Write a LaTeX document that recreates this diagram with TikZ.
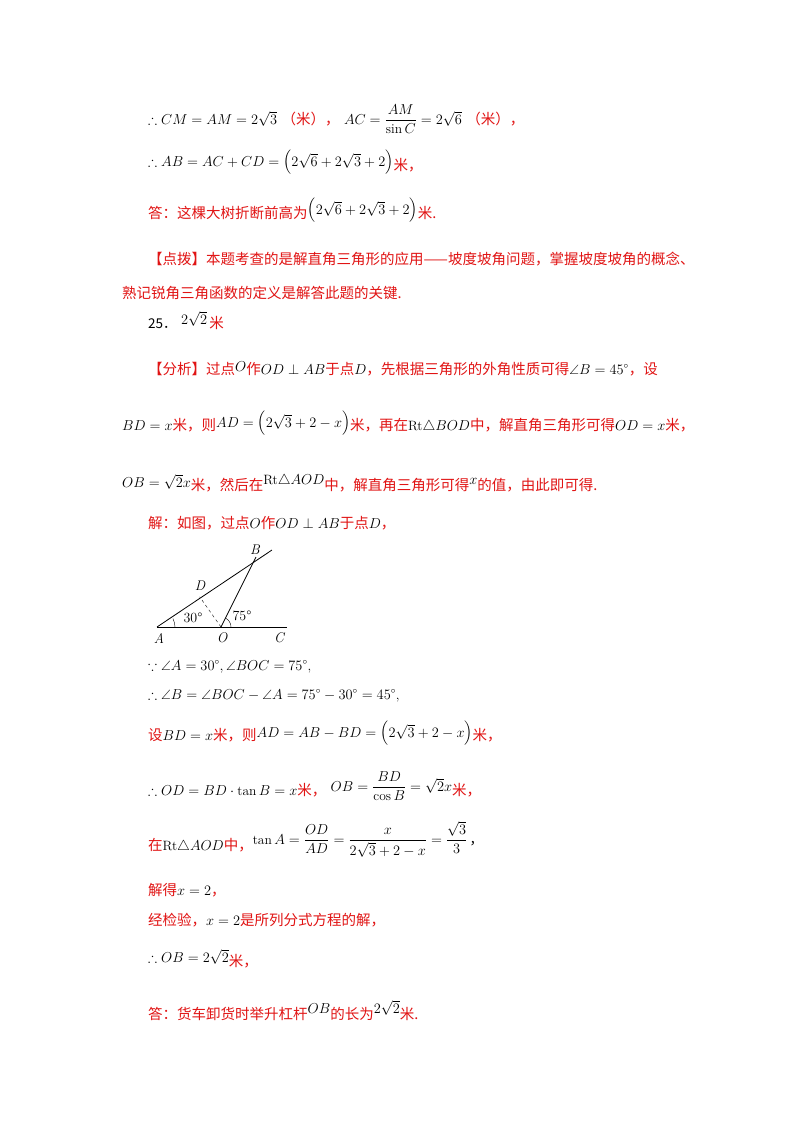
\documentclass[tikz,border=0pt]{standalone}
\usepackage{amsmath,amssymb}
\usepackage{fontspec}
\usetikzlibrary{calc}
\newfontfamily\cjk{Noto Sans CJK SC}
\definecolor{zred}{RGB}{225,20,20}
\newcommand{\zh}[1]{{\cjk\fontsize{14.5}{16}\selectfont\color{zred}#1}}
\begin{document}
\begin{tikzpicture}[x=1pt,y=-1pt,
  ln/.style={anchor=base west,inner sep=0pt,font=\fontsize{13.5}{15}\selectfont},
  pt/.style={font=\fontsize{14}{16}\selectfont\itshape,inner sep=1pt}]
\useasboundingbox (0,0) rectangle (800,1132);
\fill[white] (0,0) rectangle (800,1132);
\node[ln] (l1) at (148,124) {$\therefore CM=AM=2\sqrt{3}$\ \zh{（米），}\ $AC=\dfrac{AM}{\sin C}=2\sqrt{6}$\ \zh{（米），}};
\node[ln] (l2) at (148,166) {$\therefore AB=AC+CD=\Bigl(2\sqrt{6}+2\sqrt{3}+2\Bigr)$\raisebox{-4pt}{\zh{米，}}};
\node[ln] (l3) at (148,218) {\zh{答：这棵大树折断前高为}\raisebox{4pt}{$\Bigl(2\sqrt{6}+2\sqrt{3}+2\Bigr)$}\zh{米.}};
\node[ln] (l4) at (148,264) {\zh{【点拨】本题考查的是解直角三角形的应用——坡度坡角问题，掌握坡度坡角的概念、}};
\node[ln] (l5) at (122,298) {\zh{熟记锐角三角函数的定义是解答此题的关键.}};
\node[ln] (l6) at (148,328) {{\cjk 25．}\ \raisebox{4pt}{$2\sqrt{2}$}\,\zh{米}};
\node[ln] (l7) at (148,374) {\zh{【分析】过点}\raisebox{3pt}{$O$}\zh{作}$OD\perp AB$\zh{于点}$D$\zh{，先根据三角形的外角性质可得}$\angle B=45^\circ$\zh{，设}};
\node[ln] (l8) at (122,430) {$BD=x$\zh{米，则}\raisebox{3pt}{$AD=\Bigl(2\sqrt{3}+2-x\Bigr)$}\zh{米，再在}Rt$\triangle BOD$\zh{中，解直角三角形可得}$OD=x$\zh{米，}};
\node[ln] (l9) at (122,490) {\raisebox{3pt}{$OB=\sqrt{2}x$}\zh{米，然后在}\raisebox{6pt}{Rt$\triangle AOD$}\zh{中，解直角三角形可得}\raisebox{6pt}{$x$}\zh{的值，由此即可得.}};
\node[ln] (l10) at (148,528) {\zh{解：如图，过点}$O$\zh{作}$OD\perp AB$\zh{于点}$D$\zh{，}};
% figure
\coordinate (A) at (157,627);
\coordinate (O) at (221,627);
\coordinate (C) at (287,627);
\coordinate (B) at (256,557);
\coordinate (E) at (272,550);
\coordinate (D) at ($(A)!(O)!(B)$);
\draw[thick] (A) -- (C);
\draw[thick] (A) -- (E);
\draw[thick] (O) -- (B);
\draw[dashed] (O) -- (D);
\draw (A) ++(0:18) arc (0:-28:18);
\draw (O) ++(0:10) arc (0:-65:10);
\node[pt] (nA) at (159,638) {A};
\node[pt] (nO) at (222,638) {O};
\node[pt] (nC) at (279,638) {C};
\node[pt] (nB) at (255,550) {B};
\node[pt] (nD) at (200,586) {D};
\node[font=\fontsize{14}{16}\selectfont,inner sep=0pt] (a30) at (193,618) {30°};
\node[font=\fontsize{14}{16}\selectfont,inner sep=0pt] (a75) at (242,616) {75°};
\node[ln] (l11) at (148,670) {$\because\angle A=30^\circ,\angle BOC=75^\circ$,};
\node[ln] (l12) at (148,699) {$\therefore\angle B=\angle BOC-\angle A=75^\circ-30^\circ=45^\circ$,};
\node[ln] (l13) at (148,740) {\zh{设}$BD=x$\zh{米，则}\raisebox{3pt}{$AD=AB-BD=\Bigl(2\sqrt{3}+2-x\Bigr)$}\zh{米，}};
\node[ln] (l14) at (148,795) {$\therefore OD=BD\cdot\tan B=x$\zh{米，}\ \raisebox{4pt}{$OB=\dfrac{BD}{\cos B}=\sqrt{2}x$}\zh{米，}};
\node[ln] (l15) at (148,850) {\zh{在}Rt$\triangle AOD$\zh{中，}\raisebox{6pt}{$\tan A=\dfrac{OD}{AD}=\dfrac{x}{2\sqrt{3}+2-x}=\dfrac{\sqrt{3}}{3}$\,{\cjk ，}}};
\node[ln] (l16) at (148,895) {\zh{解得}$x=2$\zh{，}};
\node[ln] (l17) at (148,925) {\zh{经检验，}$x=2$\zh{是所列分式方程的解，}};
\node[ln] (l18) at (148,962) {$\therefore OB=2\sqrt{2}$\raisebox{-4pt}{\zh{米，}}};
\node[ln] (l19) at (148,1019) {\zh{答：货车卸货时举升杠杆}\raisebox{6pt}{$OB$}\zh{的长为}\raisebox{6pt}{$2\sqrt{2}$}\zh{米.}};
\end{tikzpicture}
\end{document}
